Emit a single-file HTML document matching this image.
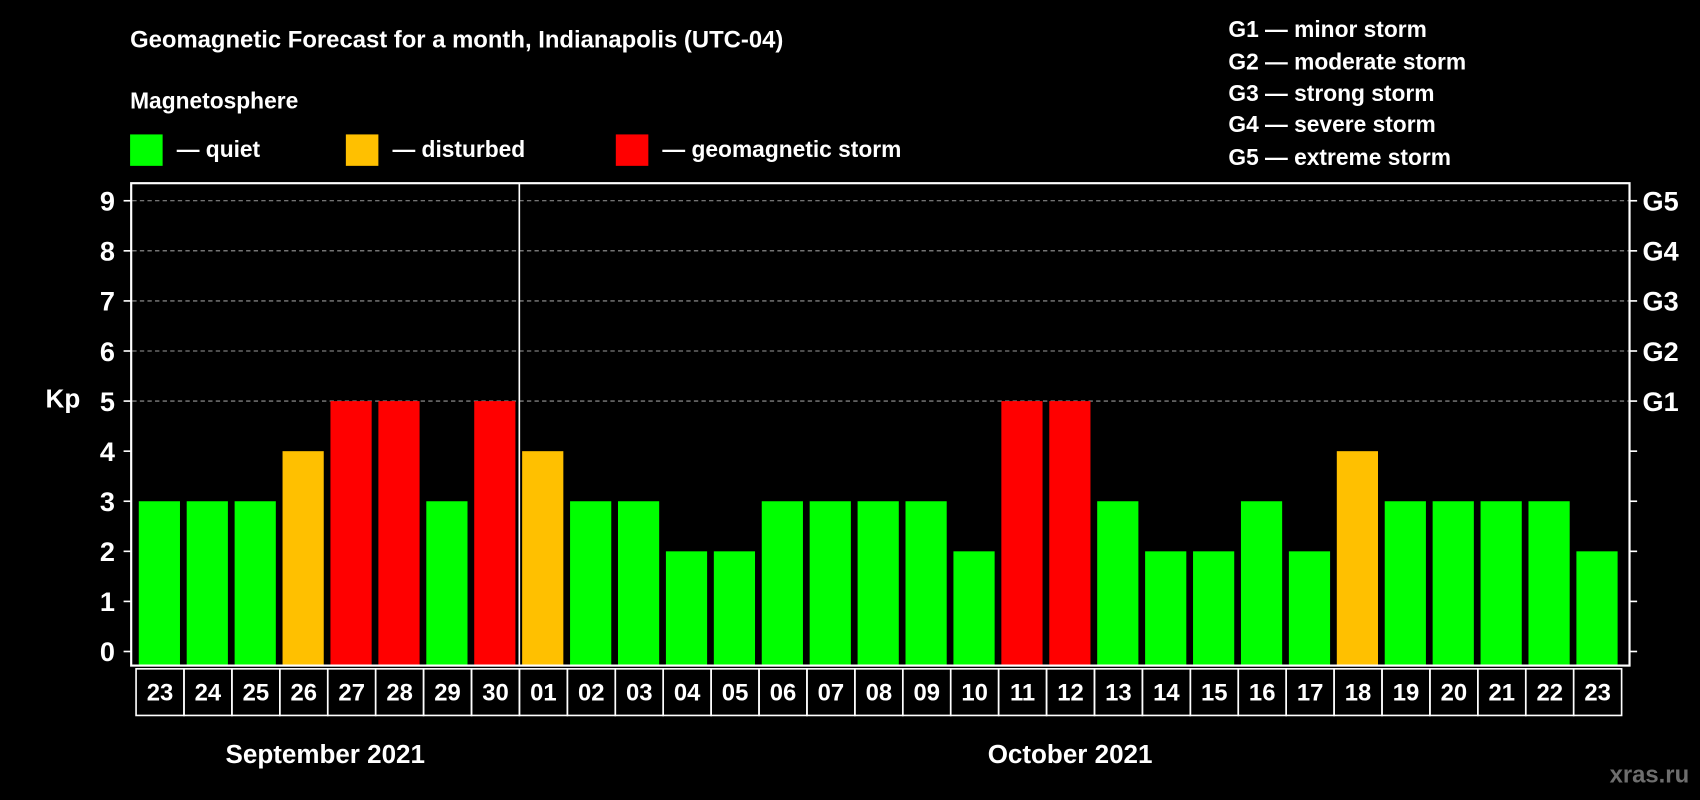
<!DOCTYPE html>
<html><head><meta charset="utf-8"><style>
html,body{margin:0;padding:0;background:#000;width:1700px;height:800px;overflow:hidden}
svg{display:block}
text{font-family:"Liberation Sans",Arial,sans-serif;font-weight:bold;fill:#fff}
</style></head><body>
<svg id="chart" width="1700" height="800" viewBox="0 0 1568 738" preserveAspectRatio="none" xmlns="http://www.w3.org/2000/svg">
<rect x="0" y="0" width="1568" height="738" fill="#000"/>
<text x="120" y="44" font-size="22">Geomagnetic Forecast for a month, Indianapolis (UTC-04)</text>
<text x="120" y="100" font-size="21">Magnetosphere</text>
<g>
<rect x="120" y="124" width="30" height="29" fill="#00ff00"/>
<text x="163" y="145" font-size="21">— quiet</text>
<rect x="319" y="124" width="30" height="29" fill="#ffc000"/>
<text x="362" y="145" font-size="21">— disturbed</text>
<rect x="568" y="124" width="30" height="29" fill="#ff0000"/>
<text x="611" y="145" font-size="21">— geomagnetic storm</text>
</g>
<g font-size="21">
<text x="1133" y="34">G1 — minor storm</text>
<text x="1133" y="64">G2 — moderate storm</text>
<text x="1133" y="93">G3 — strong storm</text>
<text x="1133" y="122">G4 — severe storm</text>
<text x="1133" y="152">G5 — extreme storm</text>
</g>
<text x="58" y="376" font-size="24" text-anchor="middle">Kp</text>
<g id="grid"></g>
<g id="bars"></g>
<rect x="121" y="169" width="1382" height="445" fill="none" stroke="#fff" stroke-width="2"/>
<line x1="479" y1="169" x2="479" y2="614" stroke="#fff" stroke-width="1.5"/>
<g id="yaxis"></g>
<g id="dates"></g>
<text x="300" y="704" font-size="24" text-anchor="middle">September 2021</text>
<text x="987" y="704" font-size="24" text-anchor="middle">October 2021</text>
<text x="1558" y="722" font-size="22" text-anchor="end" style="fill:#6e6e6e">xras.ru</text>
</svg>
<script>
const days = ["23","24","25","26","27","28","29","30","01","02","03","04","05","06","07","08","09","10","11","12","13","14","15","16","17","18","19","20","21","22","23"];
const kpValues = [3,3,3,4,5,5,3,5,4,3,3,2,2,3,3,3,3,2,5,5,3,2,2,3,2,4,3,3,3,3,2];
const yTicks = [0,1,2,3,4,5,6,7,8,9];
const gLabels = ["G1","G2","G3","G4","G5"];
const gLevels = [5,6,7,8,9];

const NS = "http://www.w3.org/2000/svg";
const y0 = 601, yStep = 46.2;
const xStart = 125.5, xStep = 44.2, barW = 38;
function yScale(v){ return y0 - v * yStep; }
function xScale(i){ return xStart + i * xStep; }
function colorFor(v){ return v >= 5 ? "#ff0000" : (v >= 4 ? "#ffc000" : "#00ff00"); }
function mk(tag, attrs){ const e = document.createElementNS(NS, tag); for (const k in attrs) e.setAttribute(k, attrs[k]); return e; }

const grid = document.getElementById("grid");
const yaxis = document.getElementById("yaxis");
yTicks.forEach(v => {
  const y = yScale(v);
  if (v >= 5) {
    const gl = mk("line", {x1:122, x2:1502, y1:y, y2:y, stroke:"#9a9a9a", "stroke-width":1, "stroke-dasharray":"4,3"});
    
    
    grid.appendChild(gl);
  }
  const tl = mk("line", {x1:114, x2:121, y1:y, y2:y, stroke:"#fff", "stroke-width":1.5});
  
  
  yaxis.appendChild(tl);
  const tr = mk("line", {x1:1503, x2:1510, y1:y, y2:y, stroke:"#fff", "stroke-width":1.5});
  
  
  yaxis.appendChild(tr);
  const t = mk("text", {x:106, y:y+9, "font-size":25, "text-anchor":"end"});
  t.textContent = v;
  
  
  yaxis.appendChild(t);
});
gLabels.forEach((g, i) => {
  const t = mk("text", {x:1515, y:yScale(gLevels[i])+9, "font-size":25});
  t.textContent = g;
  
  
  yaxis.appendChild(t);
});

const bars = document.getElementById("bars");
const dates = document.getElementById("dates");
kpValues.forEach((v, i) => {
  const x = xScale(i);
  const r = mk("rect", {x:x+2.5, y:yScale(v), width:barW, height:614 - yScale(v), fill:colorFor(v)});
  
  
  bars.appendChild(r);
  const c = mk("rect", {x:x, y:617, width:xStep, height:43, fill:"none", stroke:"#fff", "stroke-width":1.5});
  
  
  dates.appendChild(c);
  const t = mk("text", {x:x + xStep/2, y:646, "font-size":22, "text-anchor":"middle"});
  t.textContent = days[i];
  
  
  dates.appendChild(t);
});
</script>
</body></html>
